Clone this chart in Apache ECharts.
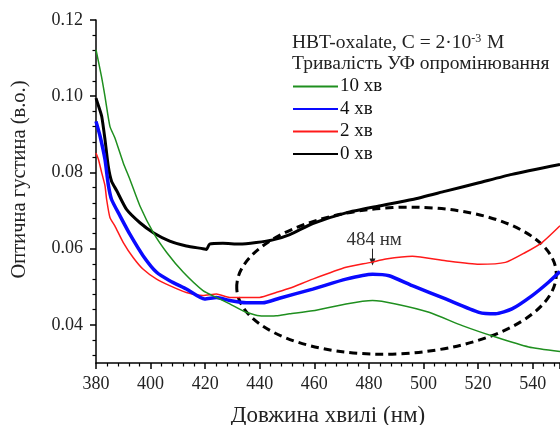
<!DOCTYPE html>
<html>
<head>
<meta charset="utf-8">
<script src="https://cdn.jsdelivr.net/npm/echarts@6/dist/echarts.min.js"></script>
<style>
  html, body { margin: 0; padding: 0; background: #fff; }
  #chart { width: 560px; height: 425px; }
</style>
</head>
<body>
<div id="chart"></div>
<script>
// spectra: [wavelength nm, optical density]
const min10 = [
  [380, 0.1122], [382, 0.1052], [383.3, 0.0999], [385.1, 0.0921], [386.9, 0.0891],
  [390, 0.0825], [392.4, 0.0782], [396.1, 0.0712], [401, 0.0642], [405.9, 0.0590],
  [412, 0.0538], [419.2, 0.0490], [424.1, 0.0472], [429, 0.0455], [435, 0.0433],
  [441.1, 0.0423], [446, 0.0424], [450.9, 0.0429], [459.4, 0.0437], [471.6, 0.0455],
  [481.3, 0.0464], [489.8, 0.0455], [502, 0.0433], [514.2, 0.0398], [526.4, 0.0368],
  [538.5, 0.0342], [550, 0.0330]
]
const min4 = [
  [380, 0.0934], [381.5, 0.0895], [383.3, 0.0834], [384.5, 0.0768], [385.7, 0.0729],
  [388.8, 0.0686], [392.4, 0.0638], [397.3, 0.0581], [402.2, 0.0538], [407, 0.0516],
  [413.1, 0.0494], [419.8, 0.0468], [424.1, 0.0472], [429, 0.0464], [435, 0.0458],
  [441.1, 0.0458], [447.2, 0.0470], [459.4, 0.0494], [471.6, 0.0520], [481.3, 0.0533],
  [487.4, 0.0529], [495.9, 0.0503], [508.1, 0.0468], [520.3, 0.0433], [526.4, 0.0429],
  [532.4, 0.0442], [539.8, 0.0477], [545.8, 0.0512], [550, 0.0540]
]
const min2 = [
  [380, 0.0851], [380.9, 0.0834], [382.1, 0.0799], [383.3, 0.0765], [383.9, 0.0729],
  [385.1, 0.0682], [386.9, 0.0660], [390, 0.0616], [393.6, 0.0577], [397.3, 0.0546],
  [402.2, 0.0520], [407, 0.0503], [413.1, 0.0485], [419.2, 0.0477], [424.1, 0.0481],
  [429, 0.0472], [433.8, 0.0472], [439.9, 0.0472], [446, 0.0485], [450.9, 0.0496],
  [459.4, 0.0520], [471.6, 0.0551], [480.7, 0.0564], [486.2, 0.0573], [495.9, 0.0580],
  [508.1, 0.0568], [520.3, 0.0559], [530, 0.0564], [537.3, 0.0590], [543.4, 0.0616],
  [550, 0.0660]
]
const min0 = [
  [380, 0.0995], [380.9, 0.0975], [382.1, 0.0947], [383.3, 0.0886], [384.5, 0.0816],
  [385.7, 0.0777], [387.6, 0.0752], [391.2, 0.0703], [396.1, 0.0668], [401, 0.0642],
  [407, 0.0620], [413.1, 0.0607], [419.2, 0.0600], [420.5, 0.0598], [421.6, 0.0612],
  [426.5, 0.0614], [432.6, 0.0612], [438.7, 0.0616], [444.8, 0.0623], [451, 0.0637],
  [459.4, 0.0666], [471.6, 0.0694], [483.7, 0.0712], [495.9, 0.0729], [508.1, 0.0751],
  [520.3, 0.0773], [532.4, 0.0795], [550, 0.0821]
]

const legendNames = ['10 хв', '4 хв', '2 хв', '0 хв']
const yLabels = [0.04, 0.06, 0.08, 0.10, 0.12]
// minor ticks every 0.004
const yMinor = []
for (let i = 8; i <= 30; i++) {
  const v = Math.round(i * 0.004 * 1000) / 1000
  if (Math.round(v * 1000) % 20 !== 0) yMinor.push(v)
}

// dashed ellipse around the band: centre, half width (nm), half height
const bandCentre = [490.1, 0.0516]
const bandHalf = [58.6, 0.0192]
// peak label: text position, arrow start, arrow tip
const peakText = '484 нм'
const peakLabelAt = [481.9, 0.0624]
const peakArrow = [[481.3, 0.0600], [481.3, 0.0556]]

const FONT = '"Liberation Serif", "Times New Roman", serif'

const chart = echarts.init(document.getElementById('chart'))

const option = {
  animation: false,
  title: {
    left: 292,
    top: 32,
    padding: 0,
    text: '{a|HBT-oxalate, C = 2·10}{s|-3}{a| M}\n{a|Тривалість УФ опромінювання}',
    textStyle: {
      rich: {
        a: { fontFamily: FONT, fontSize: 19.5, fontWeight: 'normal', color: '#222', lineHeight: 21 },
        s: { fontFamily: FONT, fontSize: 12, fontWeight: 'normal', color: '#222', padding: [0, 1, 8, 0], lineHeight: 21 }
      }
    }
  },
  legend: {
    data: legendNames,
    orient: 'vertical',
    left: 292,
    top: 77,
    padding: 0,
    itemWidth: 45,
    itemHeight: 14,
    itemGap: 3.5,
    itemStyle: { opacity: 0 },
    textStyle: { fontFamily: FONT, fontSize: 19, color: '#111', padding: [0, 0, 0, -3] }
  },
  grid: { left: 96, right: 0, top: 20, bottom: 62, outerBoundsMode: 'none', containLabel: false },
  xAxis: {
    type: 'value',
    min: 380,
    max: 550,
    interval: 20,
    name: 'Довжина хвилі (нм)',
    nameLocation: 'middle',
    nameGap: 41,
    nameTextStyle: { fontFamily: FONT, fontSize: 23, color: '#222' },
    axisLine: { lineStyle: { color: '#000', width: 1.5 } },
    axisTick: { length: 6, lineStyle: { color: '#000', width: 1.5 } },
    minorTick: { show: true, splitNumber: 5, length: 3.5, lineStyle: { color: '#000', width: 1.2 } },
    axisLabel: { fontFamily: FONT, fontSize: 18, color: '#222', margin: 12, showMaxLabel: false },
    splitLine: { show: false }
  },
  yAxis: [
    {
      type: 'value',
      min: 0.03,
      max: 0.12,
      name: 'Оптична густина (в.о.)',
      nameLocation: 'middle',
      nameGap: 66,
      nameTextStyle: { fontFamily: FONT, fontSize: 20.5, color: '#222', padding: [0, 0, 0, 24] },
      axisLine: { show: true, lineStyle: { color: '#000', width: 1.5 } },
      axisTick: { show: true, length: 6, customValues: yLabels, lineStyle: { color: '#000', width: 1.5 } },
      axisLabel: {
        fontFamily: FONT, fontSize: 18, color: '#222', margin: 13,
        customValues: yLabels,
        formatter: v => v.toFixed(2)
      },
      splitLine: { show: false }
    },
    {
      type: 'value',
      min: 0.03,
      max: 0.12,
      position: 'left',
      offset: 0,
      axisLine: { show: false },
      axisTick: { show: true, length: 3.5, customValues: yMinor, lineStyle: { color: '#000', width: 1.2 } },
      axisLabel: { show: false },
      splitLine: { show: false }
    }
  ],
  series: [
    {
      name: '0 хв', type: 'line', data: min0, symbol: 'none', smooth: 0.2,
      lineStyle: { color: '#000', width: 3 }, itemStyle: { color: '#000' }
    },
    {
      name: '2 хв', type: 'line', data: min2, symbol: 'none', smooth: 0.2,
      lineStyle: { color: '#ff1a1a', width: 1.5 }, itemStyle: { color: '#ff1a1a' }
    },
    {
      name: '4 хв', type: 'line', data: min4, symbol: 'none', smooth: 0.2,
      lineStyle: { color: '#0a0aff', width: 3.5 }, itemStyle: { color: '#0a0aff' }
    },
    {
      name: '10 хв', type: 'line', data: min10, symbol: 'none', smooth: 0.2,
      lineStyle: { color: '#1f8f1f', width: 1.5 }, itemStyle: { color: '#1f8f1f' }
    },
    {
      // dashed ellipse
      type: 'custom',
      clip: false,
      silent: true,
      data: [bandCentre],
      renderItem: function (params, api) {
        const c = api.coord([api.value(0), api.value(1)])
        const s = api.size(bandHalf)
        return {
          type: 'ellipse',
          originX: c[0],
          originY: c[1],
          rotation: 0.05,
          shape: { cx: c[0], cy: c[1], rx: s[0], ry: s[1] },
          style: { fill: null, stroke: '#000', lineWidth: 3, lineDash: [8, 5] }
        }
      }
    },
    {
      // peak marker
      type: 'custom',
      clip: false,
      silent: true,
      data: [peakLabelAt],
      renderItem: function (params, api) {
        const t = api.coord(peakLabelAt)
        const a = api.coord(peakArrow[0])
        const b = api.coord(peakArrow[1])
        return {
          type: 'group',
          children: [
            {
              type: 'text',
              style: {
                text: peakText, x: t[0], y: t[1],
                align: 'center', verticalAlign: 'middle',
                font: '19px ' + FONT, fill: '#333'
              }
            },
            {
              type: 'line',
              shape: { x1: a[0], y1: a[1], x2: b[0], y2: b[1] - 5 },
              style: { stroke: '#222', lineWidth: 1 }
            },
            {
              type: 'polygon',
              shape: { points: [[b[0] - 3, b[1] - 7], [b[0] + 3, b[1] - 7], [b[0], b[1]]] },
              style: { fill: '#222' }
            }
          ]
        }
      }
    }
  ]
}

chart.setOption(option)
</script>
</body>
</html>
